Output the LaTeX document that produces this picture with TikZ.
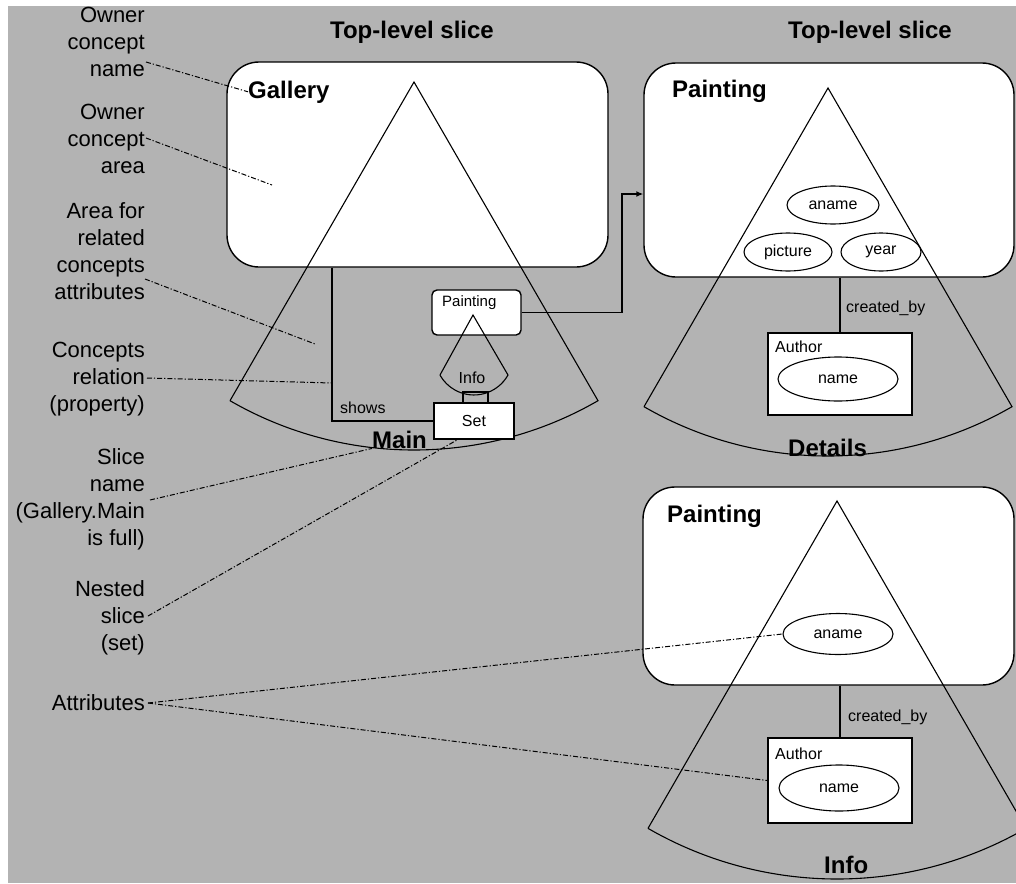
\documentclass[tikz,border=0pt]{standalone}
\usepackage{fontspec}
\setmainfont{Liberation Sans}
\usetikzlibrary{shapes.geometric,arrows.meta}
\definecolor{bggray}{RGB}{179,179,179}
\tikzset{
  box/.style={draw,fill=white,line width=1.4pt,rounded corners=32pt,inner sep=0pt},
  plainbox/.style={draw,fill=white,line width=1.4pt,inner sep=0pt},
  attr/.style={draw,ellipse,line width=1.1pt,inner sep=0pt,font=\fontsize{16}{19}\selectfont},
  cone/.style={line width=1.1pt,line join=miter},
  lbl/.style={font=\fontsize{22}{27}\selectfont,align=right,inner sep=0pt,anchor=base east},
  title/.style={font=\fontsize{24}{28}\selectfont\bfseries,inner sep=0pt},
  small/.style={font=\fontsize{16}{19}\selectfont,inner sep=0pt},
  tiny/.style={font=\fontsize{15}{18}\selectfont,inner sep=0pt},
  leader/.style={line width=1pt,dash pattern=on 5pt off 2pt on 1.2pt off 2pt},
  link/.style={line width=1.4pt},
}
\begin{document}
\begin{tikzpicture}[x=1pt,y=-1pt]
\useasboundingbox (0,0) rectangle (1016,883);
\fill[white] (0,0) rectangle (1016,883);
\fill[bggray] (8,6) rectangle (1016,883);

% titles
\node[title] (t1) at (412,32) {Top-level slice};
\node[title] (t2) at (870,32) {Top-level slice};

% owner concept boxes
\node[box,minimum width=381pt,minimum height=205pt] (gbox) at (417.5,164.5) {};
\node[box,minimum width=370pt,minimum height=214pt] (pbox1) at (829,170) {};
\node[box,minimum width=371pt,minimum height=198pt] (pbox2) at (828.5,586) {};

% slice cones
\draw[cone] (414,82) ++(120:368) -- (414,82) -- ++(60:368) arc[start angle=60,end angle=120,radius=368];
\draw[cone] (828,88) ++(120:368) -- (828,88) -- ++(60:368) arc[start angle=60,end angle=120,radius=368];
\draw[cone] (837,501) ++(120:378) -- (837,501) -- ++(60:378) arc[start angle=60,end angle=120,radius=378];

% bold labels
\node[title,anchor=base west] (gallery) at (248,98) {Gallery};
\node[title,anchor=base west] (painting1) at (672,97) {Painting};
\node[title,anchor=base west] (painting2) at (667,522) {Painting};
\node[title,anchor=base west] (main) at (372,448) {Main};
\node[title,anchor=base west] (details) at (788,456) {Details};
\node[title,anchor=base west] (info) at (824,873) {Info};

% Main slice content
\node[plainbox,rounded corners=5pt,minimum width=89pt,minimum height=45pt] (spaint) at (476.5,312.5) {};
\node[tiny,anchor=base west] (spaintlbl) at (442,306) {Painting};
\draw[cone] (440,375) -- (473,315) -- (508,375) arc[start angle=29.2,end angle=150.8,radius=39];
\node[small,anchor=base] (sinfo) at (472,383) {Info};
\node[plainbox,small,minimum width=80pt,minimum height=36pt] (set) at (474,421) {Set};
\draw[link,line width=1.2pt] (set.north -| 463,0) -- (463,392) -- (488,392) -- (set.north -| 488,0);
\coordinate (showsx) at (332,0);
\draw[link] (gbox.south -| showsx) |- (set.west);
\node[small,anchor=base west] (shows) at (340,413) {shows};
\coordinate (bend) at (622,194);
\draw[link,-{Latex[length=7pt,width=6pt]}] (spaint.east) -| (bend) -- (pbox1.west |- bend);

% Details slice content
\node[attr,minimum width=92pt,minimum height=38pt] (aname1) at (833,205) {aname};
\node[attr,minimum width=88pt,minimum height=38pt] (picture) at (788,252) {picture};
\node[attr,minimum width=80pt,minimum height=38pt] (year) at (881,252) {year};
\node[plainbox,minimum width=144pt,minimum height=82pt] (author1) at (840,374) {};
\node[small,anchor=base west] (authorlbl1) at (775,352) {Author};
\node[attr,minimum width=120pt,minimum height=44pt] (name1) at (838,379) {name};
\draw[link] (pbox1.south -| author1.north) -- (author1.north);
\node[small,anchor=base west] (cb1) at (846,312) {created\_by};

% Info slice content
\node[attr,minimum width=110pt,minimum height=41pt] (aname2) at (838,634) {aname};
\node[plainbox,minimum width=144pt,minimum height=85pt] (author2) at (840,780.5) {};
\node[small,anchor=base west] (authorlbl2) at (775,759) {Author};
\node[attr,minimum width=120pt,minimum height=46pt] (name2) at (839,788) {name};
\draw[link] (pbox2.south -| author2.north) -- (author2.north);
\node[small,anchor=base west] (cb2) at (848,721) {created\_by};

% left explanatory labels (anchor = baseline of last line)
\node[lbl] (l1) at (145,76) {Owner\\concept\\name};
\node[lbl] (l2) at (145,173) {Owner\\concept\\area};
\node[lbl] (l3) at (145,299) {Area for\\related\\concepts\\attributes};
\node[lbl] (l4) at (145,411) {Concepts\\relation\\(property)};
\node[lbl] (l5) at (145,545) {Slice\\name\\(Gallery.Main\\is full)};
\node[lbl] (l6) at (145,650) {Nested\\slice\\(set)};
\node[lbl] (l7) at (145,710) {Attributes};

% leader lines
\coordinate (a1) at (146,62);
\coordinate (a2s) at (146,138);
\coordinate (a2e) at (272,185);
\coordinate (a3s) at (145,279);
\coordinate (a3e) at (315,344);
\coordinate (a4s) at (147,378);
\coordinate (a4e) at (332,383);
\coordinate (a5s) at (150,500);
\coordinate (a6s) at (148,616);
\coordinate (a6e) at (457,440);
\coordinate (a7s) at (148,703);
\draw[leader] (a1) -- (gallery.west);
\draw[leader] (a2s) -- (a2e);
\draw[leader] (a3s) -- (a3e);
\draw[leader] (a4s) -- (a4e);
\draw[leader] (a5s) -- (main.south west);
\draw[leader] (a6s) -- (a6e);
\draw[leader] (a7s) -- (aname2.west);
\draw[leader] (a7s) -- (author2.west);
\end{tikzpicture}
\end{document}
